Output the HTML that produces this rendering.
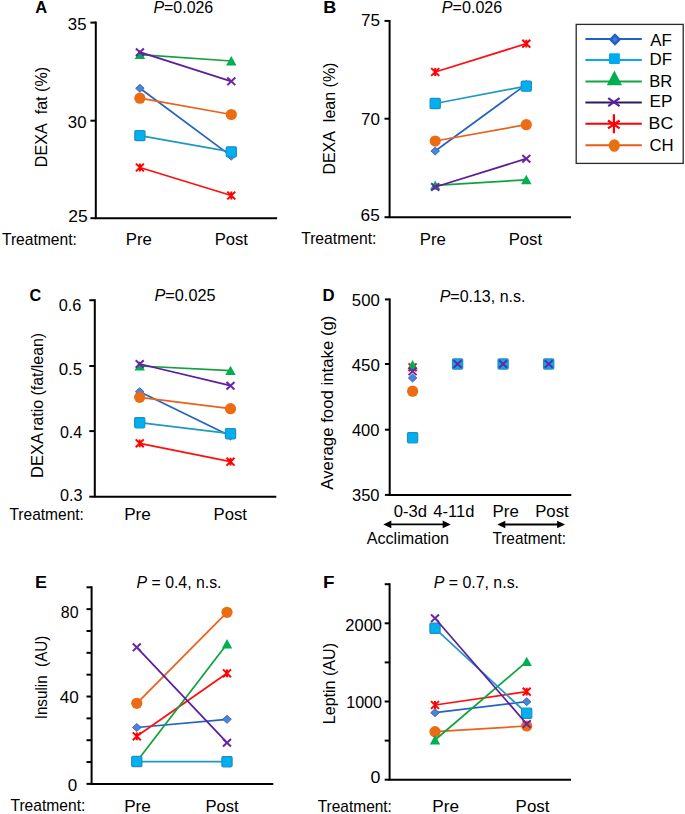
<!DOCTYPE html>
<html><head><meta charset="utf-8"><style>
html,body{margin:0;padding:0;background:#fff;}
svg{display:block;}
text{font-family:"Liberation Sans",sans-serif;fill:#000;}
</style></head><body>
<svg width="685" height="814" viewBox="0 0 685 814">
<rect width="685" height="814" fill="#fff"/>
<text x="35.22" y="13.40" font-size="17" textLength="11.90" lengthAdjust="spacingAndGlyphs"><tspan font-weight="bold">A</tspan></text>
<text x="153.43" y="13.30" font-size="17" textLength="59.82" lengthAdjust="spacingAndGlyphs"><tspan font-style="italic">P</tspan>=0.026</text>
<path d="M95.8,21.6V218.2H277.1" fill="none" stroke="#000" stroke-width="2"/>
<path d="M90.4,22.6H95.8" stroke="#000" stroke-width="2"/>
<path d="M90.4,120.7H95.8" stroke="#000" stroke-width="2"/>
<path d="M90.4,218.2H95.8" stroke="#000" stroke-width="2"/>
<text x="67.86" y="29.50" font-size="17" textLength="18.69" lengthAdjust="spacingAndGlyphs">35</text>
<text x="67.86" y="127.70" font-size="17" textLength="18.69" lengthAdjust="spacingAndGlyphs">30</text>
<text x="68.23" y="222.30" font-size="17" textLength="19.45" lengthAdjust="spacingAndGlyphs">25</text>
<text x="0" y="0" font-size="17" textLength="100.20" lengthAdjust="spacingAndGlyphs" transform="translate(46.80,167.13) rotate(-90)">DEXA&#160; fat (%)</text>
<text x="1.94" y="244.80" font-size="17" textLength="74.99" lengthAdjust="spacingAndGlyphs">Treatment:</text>
<text x="125.72" y="244.80" font-size="17" textLength="26.07" lengthAdjust="spacingAndGlyphs">Pre</text>
<text x="214.63" y="244.80" font-size="17" textLength="33.33" lengthAdjust="spacingAndGlyphs">Post</text>
<polyline points="139.9,88.3 231.3,156.1" fill="none" stroke="#2563c2" stroke-width="1.75"/>
<polygon points="139.9,84.3 144.20000000000002,88.3 139.9,92.3 135.6,88.3" fill="#4a86d6" stroke="#2c62b8" stroke-width="0.9"/>
<polygon points="231.3,152.1 235.60000000000002,156.1 231.3,160.1 227.0,156.1" fill="#4a86d6" stroke="#2c62b8" stroke-width="0.9"/>
<polyline points="139.9,167.5 231.3,195.5" fill="none" stroke="#ff1010" stroke-width="1.75"/>
<path d="M135.9,163.6L143.9,171.4M135.9,171.4L143.9,163.6M139.9,163.6L139.9,171.4" stroke="#ff0000" stroke-width="2" fill="none"/>
<path d="M227.3,191.6L235.3,199.4M227.3,199.4L235.3,191.6M231.3,191.6L231.3,199.4" stroke="#ff0000" stroke-width="2" fill="none"/>
<polyline points="139.9,98.2 231.3,114.5" fill="none" stroke="#e8621a" stroke-width="1.75"/>
<circle cx="139.9" cy="98.2" r="5.6" fill="#ec6c14"/>
<circle cx="231.3" cy="114.5" r="5.6" fill="#ec6c14"/>
<polyline points="139.9,54.6 231.3,61.0" fill="none" stroke="#10a23c" stroke-width="1.75"/>
<polygon points="139.9,49.6 145.1,59.0 134.70000000000002,59.0" fill="#00b050"/>
<polygon points="231.3,56.0 236.5,65.4 226.10000000000002,65.4" fill="#00b050"/>
<polyline points="139.9,135.6 231.3,151.9" fill="none" stroke="#1f98c4" stroke-width="1.75"/>
<rect x="134.8" y="130.5" width="10.2" height="10.2" rx="1.2" fill="#00b0f0" stroke="#1f8fbf" stroke-width="1.2"/>
<rect x="226.20000000000002" y="146.8" width="10.2" height="10.2" rx="1.2" fill="#00b0f0" stroke="#1f8fbf" stroke-width="1.2"/>
<polyline points="139.9,52.2 231.3,81.3" fill="none" stroke="#5c1e9c" stroke-width="1.75"/>
<path d="M135.9,48.400000000000006L143.9,56.0M135.9,56.0L143.9,48.400000000000006" stroke="#6a24a6" stroke-width="2" fill="none"/>
<path d="M227.3,77.5L235.3,85.1M227.3,85.1L235.3,77.5" stroke="#6a24a6" stroke-width="2" fill="none"/>
<text x="323.17" y="13.40" font-size="17" textLength="13.06" lengthAdjust="spacingAndGlyphs"><tspan font-weight="bold">B</tspan></text>
<text x="441.83" y="13.20" font-size="17" textLength="60.44" lengthAdjust="spacingAndGlyphs"><tspan font-style="italic">P</tspan>=0.026</text>
<path d="M389.6,19.9V217.2H571" fill="none" stroke="#000" stroke-width="2"/>
<path d="M384.5,20.9H389.6" stroke="#000" stroke-width="2"/>
<path d="M384.5,118.7H389.6" stroke="#000" stroke-width="2"/>
<path d="M384.5,217.2H389.6" stroke="#000" stroke-width="2"/>
<text x="360.94" y="26.20" font-size="17" textLength="19.12" lengthAdjust="spacingAndGlyphs">75</text>
<text x="360.95" y="124.60" font-size="17" textLength="18.91" lengthAdjust="spacingAndGlyphs">70</text>
<text x="360.64" y="221.30" font-size="17" textLength="19.23" lengthAdjust="spacingAndGlyphs">65</text>
<text x="0" y="0" font-size="17" textLength="112.07" lengthAdjust="spacingAndGlyphs" transform="translate(334.60,174.62) rotate(-90)">DEXA&#160; lean (%)</text>
<text x="301.14" y="244.40" font-size="17" textLength="75.30" lengthAdjust="spacingAndGlyphs">Treatment:</text>
<text x="419.72" y="244.60" font-size="17" textLength="26.18" lengthAdjust="spacingAndGlyphs">Pre</text>
<text x="508.63" y="244.60" font-size="17" textLength="33.44" lengthAdjust="spacingAndGlyphs">Post</text>
<polyline points="435.2,151 526.3,84.4" fill="none" stroke="#2563c2" stroke-width="1.75"/>
<polygon points="435.2,147.0 439.5,151 435.2,155.0 430.9,151" fill="#4a86d6" stroke="#2c62b8" stroke-width="0.9"/>
<polygon points="526.3,80.4 530.5999999999999,84.4 526.3,88.4 522.0,84.4" fill="#4a86d6" stroke="#2c62b8" stroke-width="0.9"/>
<polyline points="435.2,72 526.3,43.7" fill="none" stroke="#ff1010" stroke-width="1.75"/>
<path d="M431.2,68.1L439.2,75.9M431.2,75.9L439.2,68.1M435.2,68.1L435.2,75.9" stroke="#ff0000" stroke-width="2" fill="none"/>
<path d="M522.3,39.800000000000004L530.3,47.6M522.3,47.6L530.3,39.800000000000004M526.3,39.800000000000004L526.3,47.6" stroke="#ff0000" stroke-width="2" fill="none"/>
<polyline points="435.2,141 526.3,124.7" fill="none" stroke="#e8621a" stroke-width="1.75"/>
<circle cx="435.2" cy="141" r="5.6" fill="#ec6c14"/>
<circle cx="526.3" cy="124.7" r="5.6" fill="#ec6c14"/>
<polyline points="435.2,185.4 526.3,179.8" fill="none" stroke="#10a23c" stroke-width="1.75"/>
<polygon points="435.2,180.4 440.4,189.8 430.0,189.8" fill="#00b050"/>
<polygon points="526.3,174.8 531.5,184.20000000000002 521.0999999999999,184.20000000000002" fill="#00b050"/>
<polyline points="435.2,103.5 526.3,86.1" fill="none" stroke="#1f98c4" stroke-width="1.75"/>
<rect x="430.09999999999997" y="98.4" width="10.2" height="10.2" rx="1.2" fill="#00b0f0" stroke="#1f8fbf" stroke-width="1.2"/>
<rect x="521.1999999999999" y="81.0" width="10.2" height="10.2" rx="1.2" fill="#00b0f0" stroke="#1f8fbf" stroke-width="1.2"/>
<polyline points="435.2,187 526.3,158.7" fill="none" stroke="#5c1e9c" stroke-width="1.75"/>
<path d="M431.2,183.2L439.2,190.8M431.2,190.8L439.2,183.2" stroke="#6a24a6" stroke-width="2" fill="none"/>
<path d="M522.3,154.89999999999998L530.3,162.5M522.3,162.5L530.3,154.89999999999998" stroke="#6a24a6" stroke-width="2" fill="none"/>
<rect x="576.2" y="24.4" width="107" height="139" fill="#fff" stroke="#2a2a2a" stroke-width="1.3"/>
<path d="M585.4,38.9H641.8" stroke="#2060c8" stroke-width="2"/>
<polygon points="615,33.2 621.2,39.5 615,45.8 608.8,39.5" fill="#1d5fc2"/>
<polygon points="615,36.7 617.8,39.5 615,42.3 612.2,39.5" fill="#4a7fcf" opacity="0.8"/>
<text x="650.20" y="45.80" font-size="17" textLength="21.52" lengthAdjust="spacingAndGlyphs">AF</text>
<path d="M585.4,60.0H641.8" stroke="#0aa6ee" stroke-width="2"/>
<rect x="609" y="53.2" width="10.9" height="10.7" rx="1" fill="#00aaf0"/>
<text x="649.61" y="64.60" font-size="17" textLength="22.55" lengthAdjust="spacingAndGlyphs">DF</text>
<path d="M585.4,81.5H641.8" stroke="#10a840" stroke-width="2"/>
<polygon points="614.4,70.4 622,85.2 606.8,85.2" fill="#00b050"/>
<text x="649.34" y="87.30" font-size="17" textLength="23.01" lengthAdjust="spacingAndGlyphs">BR</text>
<path d="M585.4,102.4H641.8" stroke="#2c1a60" stroke-width="2"/>
<path d="M608.2,98.1L619.6,106.2M608.2,106.2L619.6,98.1" stroke="#5522a0" stroke-width="2.2" fill="none"/>
<text x="649.59" y="106.60" font-size="17" textLength="22.85" lengthAdjust="spacingAndGlyphs">EP</text>
<path d="M585.4,123.7H641.8" stroke="#ff0000" stroke-width="2"/>
<path d="M613.9,114.2V133.2M608,120.5L619.6,128.4M608,128.4L619.6,120.5" stroke="#ff0000" stroke-width="2.2" fill="none"/>
<text x="648.64" y="128.70" font-size="17" textLength="24.56" lengthAdjust="spacingAndGlyphs">BC</text>
<path d="M585.4,145.2H641.8" stroke="#e65c14" stroke-width="2"/>
<ellipse cx="614.3" cy="145.5" rx="5.5" ry="6.3" fill="#e8700e"/>
<text x="649.46" y="151.10" font-size="17" textLength="24.12" lengthAdjust="spacingAndGlyphs">CH</text>
<text x="29.58" y="301.20" font-size="17" textLength="11.72" lengthAdjust="spacingAndGlyphs"><tspan font-weight="bold">C</tspan></text>
<text x="154.42" y="301.40" font-size="17" textLength="61.15" lengthAdjust="spacingAndGlyphs"><tspan font-style="italic">P</tspan>=0.025</text>
<path d="M94.8,299.2V496.7H276.3" fill="none" stroke="#000" stroke-width="2"/>
<path d="M89.3,300.2H94.8" stroke="#000" stroke-width="2"/>
<path d="M89.3,366.0H94.8" stroke="#000" stroke-width="2"/>
<path d="M89.3,431.1H94.8" stroke="#000" stroke-width="2"/>
<path d="M89.3,496.7H94.8" stroke="#000" stroke-width="2"/>
<text x="58.78" y="310.50" font-size="17" textLength="22.62" lengthAdjust="spacingAndGlyphs">0.6</text>
<text x="58.66" y="375.00" font-size="17" textLength="23.47" lengthAdjust="spacingAndGlyphs">0.5</text>
<text x="59.89" y="438.30" font-size="17" textLength="22.26" lengthAdjust="spacingAndGlyphs">0.4</text>
<text x="59.89" y="500.60" font-size="17" textLength="22.51" lengthAdjust="spacingAndGlyphs">0.3</text>
<text x="0" y="0" font-size="17" textLength="45.11" lengthAdjust="spacingAndGlyphs" transform="translate(43.20,477.96) rotate(-90)">DEXA</text>
<text x="0" y="0" font-size="17" textLength="97.91" lengthAdjust="spacingAndGlyphs" transform="translate(43.20,430.77) rotate(-90)">ratio (fat/lean)</text>
<text x="9.44" y="519.80" font-size="17" textLength="74.48" lengthAdjust="spacingAndGlyphs">Treatment:</text>
<text x="124.18" y="520.20" font-size="17" textLength="26.73" lengthAdjust="spacingAndGlyphs">Pre</text>
<text x="213.53" y="520.20" font-size="17" textLength="33.44" lengthAdjust="spacingAndGlyphs">Post</text>
<polyline points="139.7,391.7 230.5,436" fill="none" stroke="#2563c2" stroke-width="1.75"/>
<polygon points="139.7,387.7 144.0,391.7 139.7,395.7 135.39999999999998,391.7" fill="#4a86d6" stroke="#2c62b8" stroke-width="0.9"/>
<polygon points="230.5,432.0 234.8,436 230.5,440.0 226.2,436" fill="#4a86d6" stroke="#2c62b8" stroke-width="0.9"/>
<polyline points="139.7,443.3 230.5,461.7" fill="none" stroke="#ff1010" stroke-width="1.75"/>
<path d="M135.7,439.40000000000003L143.7,447.2M135.7,447.2L143.7,439.40000000000003M139.7,439.40000000000003L139.7,447.2" stroke="#ff0000" stroke-width="2" fill="none"/>
<path d="M226.5,457.8L234.5,465.59999999999997M226.5,465.59999999999997L234.5,457.8M230.5,457.8L230.5,465.59999999999997" stroke="#ff0000" stroke-width="2" fill="none"/>
<polyline points="139.7,397.3 230.5,408.7" fill="none" stroke="#e8621a" stroke-width="1.75"/>
<circle cx="139.7" cy="397.3" r="5.6" fill="#ec6c14"/>
<circle cx="230.5" cy="408.7" r="5.6" fill="#ec6c14"/>
<polyline points="139.7,366 230.5,370.7" fill="none" stroke="#10a23c" stroke-width="1.75"/>
<polygon points="139.7,361.0 144.89999999999998,370.4 134.5,370.4" fill="#00b050"/>
<polygon points="230.5,365.7 235.7,375.09999999999997 225.3,375.09999999999997" fill="#00b050"/>
<polyline points="139.7,422.7 230.5,433.7" fill="none" stroke="#1f98c4" stroke-width="1.75"/>
<rect x="134.6" y="417.59999999999997" width="10.2" height="10.2" rx="1.2" fill="#00b0f0" stroke="#1f8fbf" stroke-width="1.2"/>
<rect x="225.4" y="428.59999999999997" width="10.2" height="10.2" rx="1.2" fill="#00b0f0" stroke="#1f8fbf" stroke-width="1.2"/>
<polyline points="139.7,364 230.5,385.7" fill="none" stroke="#5c1e9c" stroke-width="1.75"/>
<path d="M135.7,360.2L143.7,367.8M135.7,367.8L143.7,360.2" stroke="#6a24a6" stroke-width="2" fill="none"/>
<path d="M226.5,381.9L234.5,389.5M226.5,389.5L234.5,381.9" stroke="#6a24a6" stroke-width="2" fill="none"/>
<text x="322.57" y="300.90" font-size="17" textLength="12.10" lengthAdjust="spacingAndGlyphs"><tspan font-weight="bold">D</tspan></text>
<text x="439.63" y="301.50" font-size="17" textLength="85.83" lengthAdjust="spacingAndGlyphs"><tspan font-style="italic">P</tspan>=0.13, n.s.</text>
<path d="M389.7,298.4V494.9H571.3" fill="none" stroke="#000" stroke-width="2"/>
<path d="M384.9,299.4H389.7" stroke="#000" stroke-width="2"/>
<path d="M384.9,364.0H389.7" stroke="#000" stroke-width="2"/>
<path d="M384.9,429.7H389.7" stroke="#000" stroke-width="2"/>
<path d="M384.9,494.9H389.7" stroke="#000" stroke-width="2"/>
<text x="351.86" y="306.20" font-size="17" textLength="27.94" lengthAdjust="spacingAndGlyphs">500</text>
<text x="351.70" y="371.30" font-size="17" textLength="28.20" lengthAdjust="spacingAndGlyphs">450</text>
<text x="351.91" y="436.20" font-size="17" textLength="27.58" lengthAdjust="spacingAndGlyphs">400</text>
<text x="351.97" y="501.10" font-size="17" textLength="27.52" lengthAdjust="spacingAndGlyphs">350</text>
<text x="0" y="0" font-size="17" textLength="174.12" lengthAdjust="spacingAndGlyphs" transform="translate(332.90,489.70) rotate(-90)">Average food intake (g)</text>
<text x="393.77" y="516.80" font-size="17" textLength="33.28" lengthAdjust="spacingAndGlyphs">0-3d</text>
<text x="433.31" y="516.90" font-size="17" textLength="41.06" lengthAdjust="spacingAndGlyphs">4-11d</text>
<text x="492.51" y="516.90" font-size="17" textLength="26.29" lengthAdjust="spacingAndGlyphs">Pre</text>
<text x="535.23" y="516.90" font-size="17" textLength="33.44" lengthAdjust="spacingAndGlyphs">Post</text>
<text x="366.70" y="544.00" font-size="17" textLength="82.40" lengthAdjust="spacingAndGlyphs">Acclimation</text>
<text x="492.45" y="544.00" font-size="17" textLength="73.66" lengthAdjust="spacingAndGlyphs">Treatment:</text>
<path d="M389.3,524.4H444.7" stroke="#000" stroke-width="1.9"/><polygon points="383.3,524.4 391.3,520.6 391.3,528.1999999999999" fill="#000"/><polygon points="450.7,524.4 442.7,520.6 442.7,528.1999999999999" fill="#000"/>
<path d="M503.3,524.5H559.1" stroke="#000" stroke-width="1.9"/><polygon points="497.3,524.5 505.3,520.7 505.3,528.3" fill="#000"/><polygon points="565.1,524.5 557.1,520.7 557.1,528.3" fill="#000"/>
<rect x="407.5" y="432.59999999999997" width="10.2" height="10.2" rx="1.2" fill="#00b0f0" stroke="#1f8fbf" stroke-width="1.2"/>
<circle cx="412.6" cy="391.2" r="5.6" fill="#ec6c14"/>
<polygon points="412.6,374.0 416.90000000000003,378.0 412.6,382.0 408.3,378.0" fill="#4a86d6" stroke="#2c62b8" stroke-width="0.9"/>
<path d="M408.6,363.40000000000003L416.6,371.2M408.6,371.2L416.6,363.40000000000003M412.6,363.40000000000003L412.6,371.2" stroke="#ff0000" stroke-width="2" fill="none"/>
<polygon points="412.6,360.0 417.8,369.4 407.40000000000003,369.4" fill="#00b050"/>
<path d="M408.6,367.5L416.6,375.1M408.6,375.1L416.6,367.5" stroke="#6a24a6" stroke-width="2" fill="none"/>
<rect x="452.5" y="358.9" width="10.2" height="10.2" rx="1.2" fill="#00b0f0" stroke="#1f8fbf" stroke-width="1.2"/>
<path d="M453.6,360.2L461.6,367.8M453.6,367.8L461.6,360.2" stroke="#6a24a6" stroke-width="2" fill="none"/>
<rect x="498.0" y="358.9" width="10.2" height="10.2" rx="1.2" fill="#00b0f0" stroke="#1f8fbf" stroke-width="1.2"/>
<path d="M499.1,360.2L507.1,367.8M499.1,367.8L507.1,360.2" stroke="#6a24a6" stroke-width="2" fill="none"/>
<rect x="543.6" y="358.9" width="10.2" height="10.2" rx="1.2" fill="#00b0f0" stroke="#1f8fbf" stroke-width="1.2"/>
<path d="M544.7,360.2L552.7,367.8M544.7,367.8L552.7,360.2" stroke="#6a24a6" stroke-width="2" fill="none"/>
<text x="35.08" y="588.00" font-size="17" textLength="11.94" lengthAdjust="spacingAndGlyphs"><tspan font-weight="bold">E</tspan></text>
<text x="136.53" y="588.00" font-size="17" textLength="85.01" lengthAdjust="spacingAndGlyphs"><tspan font-style="italic">P</tspan> = 0.4, n.s.</text>
<path d="M91.6,586.3V783.9H273.3" fill="none" stroke="#000" stroke-width="2"/>
<path d="M86.5,783.9H91.6" stroke="#000" stroke-width="2"/>
<path d="M86.5,762.0555555555555H91.6" stroke="#000" stroke-width="2"/>
<path d="M86.5,740.2111111111111H91.6" stroke="#000" stroke-width="2"/>
<path d="M86.5,718.3666666666667H91.6" stroke="#000" stroke-width="2"/>
<path d="M86.5,696.5222222222221H91.6" stroke="#000" stroke-width="2"/>
<path d="M86.5,674.6777777777777H91.6" stroke="#000" stroke-width="2"/>
<path d="M86.5,652.8333333333333H91.6" stroke="#000" stroke-width="2"/>
<path d="M86.5,630.9888888888888H91.6" stroke="#000" stroke-width="2"/>
<path d="M86.5,609.1444444444444H91.6" stroke="#000" stroke-width="2"/>
<path d="M86.5,587.3H91.6" stroke="#000" stroke-width="2"/>
<text x="60.80" y="617.70" font-size="17" textLength="17.72" lengthAdjust="spacingAndGlyphs">80</text>
<text x="59.80" y="702.70" font-size="17" textLength="19.07" lengthAdjust="spacingAndGlyphs">40</text>
<text x="67.85" y="791.00" font-size="17" textLength="9.45" lengthAdjust="spacingAndGlyphs">0</text>
<text x="0" y="0" font-size="17" textLength="83.68" lengthAdjust="spacingAndGlyphs" transform="translate(46.70,719.34) rotate(-90)">Insulin&#160; (AU)</text>
<text x="10.44" y="811.40" font-size="17" textLength="74.89" lengthAdjust="spacingAndGlyphs">Treatment:</text>
<text x="124.18" y="812.20" font-size="17" textLength="26.73" lengthAdjust="spacingAndGlyphs">Pre</text>
<text x="205.43" y="812.20" font-size="17" textLength="33.33" lengthAdjust="spacingAndGlyphs">Post</text>
<polyline points="136.8,727.5 227.0,719.3" fill="none" stroke="#2563c2" stroke-width="1.75"/>
<polygon points="136.8,723.5 141.10000000000002,727.5 136.8,731.5 132.5,727.5" fill="#4a86d6" stroke="#2c62b8" stroke-width="0.9"/>
<polygon points="227.0,715.3 231.3,719.3 227.0,723.3 222.7,719.3" fill="#4a86d6" stroke="#2c62b8" stroke-width="0.9"/>
<polyline points="136.8,736.3 227.0,673.3" fill="none" stroke="#ff1010" stroke-width="1.75"/>
<path d="M132.8,732.4L140.8,740.1999999999999M132.8,740.1999999999999L140.8,732.4M136.8,732.4L136.8,740.1999999999999" stroke="#ff0000" stroke-width="2" fill="none"/>
<path d="M223.0,669.4L231.0,677.1999999999999M223.0,677.1999999999999L231.0,669.4M227.0,669.4L227.0,677.1999999999999" stroke="#ff0000" stroke-width="2" fill="none"/>
<polyline points="136.8,703.3 227.0,612.3" fill="none" stroke="#e8621a" stroke-width="1.75"/>
<circle cx="136.8" cy="703.3" r="5.6" fill="#ec6c14"/>
<circle cx="227.0" cy="612.3" r="5.6" fill="#ec6c14"/>
<polyline points="136.8,761.5 227.0,644" fill="none" stroke="#10a23c" stroke-width="1.75"/>
<polygon points="136.8,756.5 142.0,765.9 131.60000000000002,765.9" fill="#00b050"/>
<polygon points="227.0,639.0 232.2,648.4 221.8,648.4" fill="#00b050"/>
<polyline points="136.8,761.5 227.0,761.7" fill="none" stroke="#1f98c4" stroke-width="1.75"/>
<rect x="131.70000000000002" y="756.4" width="10.2" height="10.2" rx="1.2" fill="#00b0f0" stroke="#1f8fbf" stroke-width="1.2"/>
<rect x="221.9" y="756.6" width="10.2" height="10.2" rx="1.2" fill="#00b0f0" stroke="#1f8fbf" stroke-width="1.2"/>
<polyline points="136.8,647.3 227.0,742.7" fill="none" stroke="#5c1e9c" stroke-width="1.75"/>
<path d="M132.8,643.5L140.8,651.0999999999999M132.8,651.0999999999999L140.8,643.5" stroke="#6a24a6" stroke-width="2" fill="none"/>
<path d="M223.0,738.9000000000001L231.0,746.5M223.0,746.5L231.0,738.9000000000001" stroke="#6a24a6" stroke-width="2" fill="none"/>
<text x="322.92" y="588.00" font-size="17" textLength="11.48" lengthAdjust="spacingAndGlyphs"><tspan font-weight="bold">F</tspan></text>
<text x="433.63" y="588.00" font-size="17" textLength="85.41" lengthAdjust="spacingAndGlyphs"><tspan font-style="italic">P</tspan> = 0.7, n.s.</text>
<path d="M389.6,583.2V779.7H571" fill="none" stroke="#000" stroke-width="2"/>
<path d="M384.7,779.7H389.6" stroke="#000" stroke-width="2"/>
<path d="M384.7,740.6H389.6" stroke="#000" stroke-width="2"/>
<path d="M384.7,701.5H389.6" stroke="#000" stroke-width="2"/>
<path d="M384.7,662.4000000000001H389.6" stroke="#000" stroke-width="2"/>
<path d="M384.7,623.3000000000001H389.6" stroke="#000" stroke-width="2"/>
<path d="M384.7,584.2H389.6" stroke="#000" stroke-width="2"/>
<text x="345.37" y="631.20" font-size="17" textLength="36.61" lengthAdjust="spacingAndGlyphs">2000</text>
<text x="346.22" y="707.80" font-size="17" textLength="35.75" lengthAdjust="spacingAndGlyphs">1000</text>
<text x="370.41" y="782.50" font-size="17" textLength="9.93" lengthAdjust="spacingAndGlyphs">0</text>
<text x="0" y="0" font-size="17" textLength="81.27" lengthAdjust="spacingAndGlyphs" transform="translate(334.70,724.22) rotate(-90)">Leptin (AU)</text>
<text x="317.75" y="811.70" font-size="17" textLength="74.17" lengthAdjust="spacingAndGlyphs">Treatment:</text>
<text x="432.38" y="812.20" font-size="17" textLength="26.73" lengthAdjust="spacingAndGlyphs">Pre</text>
<text x="515.61" y="812.20" font-size="17" textLength="33.86" lengthAdjust="spacingAndGlyphs">Post</text>
<polyline points="435,712.7 526.7,701.7" fill="none" stroke="#2563c2" stroke-width="1.75"/>
<polygon points="435,708.7 439.3,712.7 435,716.7 430.7,712.7" fill="#4a86d6" stroke="#2c62b8" stroke-width="0.9"/>
<polygon points="526.7,697.7 531.0,701.7 526.7,705.7 522.4000000000001,701.7" fill="#4a86d6" stroke="#2c62b8" stroke-width="0.9"/>
<polyline points="435,705 526.7,691.7" fill="none" stroke="#ff1010" stroke-width="1.75"/>
<path d="M431.0,701.1L439.0,708.9M431.0,708.9L439.0,701.1M435,701.1L435,708.9" stroke="#ff0000" stroke-width="2" fill="none"/>
<path d="M522.7,687.8000000000001L530.7,695.6M522.7,695.6L530.7,687.8000000000001M526.7,687.8000000000001L526.7,695.6" stroke="#ff0000" stroke-width="2" fill="none"/>
<polyline points="435,731.7 526.7,726" fill="none" stroke="#e8621a" stroke-width="1.75"/>
<circle cx="435" cy="731.7" r="5.6" fill="#ec6c14"/>
<circle cx="526.7" cy="726" r="5.6" fill="#ec6c14"/>
<polyline points="435,740 526.7,661.7" fill="none" stroke="#10a23c" stroke-width="1.75"/>
<polygon points="435,735.0 440.2,744.4 429.8,744.4" fill="#00b050"/>
<polygon points="526.7,656.7 531.9000000000001,666.1 521.5,666.1" fill="#00b050"/>
<polyline points="435,628.3 526.7,713.3" fill="none" stroke="#1f98c4" stroke-width="1.75"/>
<rect x="429.9" y="623.1999999999999" width="10.2" height="10.2" rx="1.2" fill="#00b0f0" stroke="#1f8fbf" stroke-width="1.2"/>
<rect x="521.6" y="708.1999999999999" width="10.2" height="10.2" rx="1.2" fill="#00b0f0" stroke="#1f8fbf" stroke-width="1.2"/>
<polyline points="435,618.3 526.7,724" fill="none" stroke="#5c1e9c" stroke-width="1.75"/>
<path d="M431.0,614.5L439.0,622.0999999999999M431.0,622.0999999999999L439.0,614.5" stroke="#6a24a6" stroke-width="2" fill="none"/>
<path d="M522.7,720.2L530.7,727.8M522.7,727.8L530.7,720.2" stroke="#6a24a6" stroke-width="2" fill="none"/>
</svg>
</body></html>
